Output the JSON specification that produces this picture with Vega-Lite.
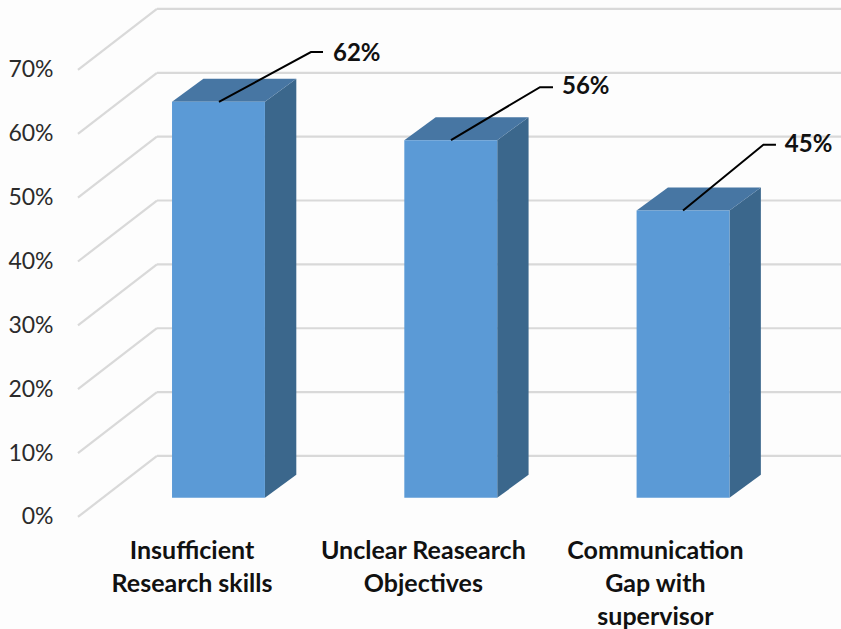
{
"$schema":"https://vega.github.io/schema/vega-lite/v6.json",
"width":841,"height":629,"autosize":{"type":"none"},"padding":0,
"background":"#fdfdfd",
"config":{"view":{"stroke":null},"font":"Lato"},
"datasets":{
"levels":[
{"level":0,"back":9.55,"front":0.395,"wall":0.735,"end":3.68},
{"level":10,"back":19.55,"front":0.395,"wall":0.735,"end":3.68},
{"level":20,"back":29.55,"front":0.395,"wall":0.735,"end":3.68},
{"level":30,"back":39.55,"front":0.395,"wall":0.735,"end":3.68},
{"level":40,"back":49.55,"front":0.395,"wall":0.735,"end":3.68},
{"level":50,"back":59.55,"front":0.395,"wall":0.735,"end":3.68},
{"level":60,"back":69.55,"front":0.395,"wall":0.735,"end":3.68},
{"level":70,"back":79.55,"front":0.395,"wall":0.735,"end":3.68}],
"bars":[
{"category":"Insufficient\nResearch skills","value":62,"left":0.8,"right":1.2,"top":65,"base":3,"labelX":0.886,"labelY":-3.45,"tagX":1.493,"tagY":72.5,"tag":"62%"},
{"category":"Unclear Reasearch\nObjectives","value":56,"left":1.8,"right":2.2,"top":59,"base":3,"labelX":1.882,"labelY":-3.45,"tagX":2.479,"tagY":67.3,"tag":"56%"},
{"category":"Communication\nGap with\nsupervisor","value":45,"left":2.8,"right":3.2,"top":48,"base":3,"labelX":2.881,"labelY":-3.45,"tagX":3.438,"tagY":58.3,"tag":"45%"}],
"faces":[
{"category":"A","a":1.2,"b":0.8,"top":65,"base":3},
{"category":"A","a":1.335,"b":0.935,"top":68.6,"base":6.6},
{"category":"B","a":2.2,"b":1.8,"top":59,"base":3},
{"category":"B","a":2.335,"b":1.935,"top":62.6,"base":6.6},
{"category":"C","a":3.2,"b":2.8,"top":48,"base":3},
{"category":"C","a":3.335,"b":2.935,"top":51.6,"base":6.6}],
"leaders":[
{"category":"A","step":1,"px":1.002,"py":65},
{"category":"A","step":2,"px":1.398,"py":72.8},
{"category":"A","step":3,"px":1.45,"py":72.8},
{"category":"B","step":1,"px":2.001,"py":59},
{"category":"B","step":2,"px":2.384,"py":67.3},
{"category":"B","step":3,"px":2.44,"py":67.3},
{"category":"C","step":1,"px":3.0,"py":48},
{"category":"C","step":2,"px":3.346,"py":58.3},
{"category":"C","step":3,"px":3.4,"py":58.3}]
},
"layer":[
{"data":{"name":"levels"},"mark":{"type":"rule","color":"#d9d9d9","strokeWidth":2.2},
 "encoding":{
 "x":{"field":"wall","type":"quantitative","scale":{"domain":[0.0594,3.68],"nice":false,"zero":false},"axis":null},
 "x2":{"field":"end"},
 "y":{"field":"back","type":"quantitative","scale":{"domain":[-17.55,80.95],"nice":false,"zero":false},"axis":{"values":[0,10,20,30,40,50,60,70],"labelExpr":"datum.value+'%'","title":null,"domain":false,"ticks":false,"grid":false,"offset":-78,"labelPadding":25,"labelFontSize":23,"labelColor":"#2b2b2b","labelFont":"Lato"}},
 "y2":{"field":"back"}}},
{"data":{"name":"levels"},"mark":{"type":"rule","color":"#d9d9d9","strokeWidth":2.2},
 "encoding":{
 "x":{"field":"front","type":"quantitative"},"x2":{"field":"wall"},
 "y":{"field":"level","type":"quantitative"},"y2":{"field":"back"}}},
{"data":{"name":"faces"},"mark":{"type":"area","color":"#3b678c","orient":"vertical"},
 "encoding":{
 "x":{"field":"a","type":"quantitative"},
 "y":{"field":"top","type":"quantitative"},"y2":{"field":"base"},
 "detail":{"field":"category"}}},
{"data":{"name":"faces"},"mark":{"type":"area","color":"#4776a3","orient":"horizontal"},
 "encoding":{
 "y":{"field":"top","type":"quantitative"},
 "x":{"field":"b","type":"quantitative"},"x2":{"field":"a"},
 "detail":{"field":"category"}}},
{"data":{"name":"bars"},"mark":{"type":"rect","color":"#5b9ad6"},
 "encoding":{
 "x":{"field":"left","type":"quantitative"},"x2":{"field":"right"},
 "y":{"field":"top","type":"quantitative"},"y2":{"field":"base"}}},
{"data":{"name":"leaders"},"mark":{"type":"line","color":"#000000","strokeWidth":2},
 "encoding":{
 "x":{"field":"px","type":"quantitative"},
 "y":{"field":"py","type":"quantitative"},
 "detail":{"field":"category"},"order":{"field":"step"}}},
{"data":{"name":"bars"},"mark":{"type":"text","align":"left","baseline":"middle","fontSize":24,"fontWeight":"bold","color":"#111111"},
 "encoding":{
 "x":{"field":"tagX","type":"quantitative"},
 "y":{"field":"tagY","type":"quantitative"},
 "text":{"field":"tag"}}},
{"data":{"name":"bars"},"mark":{"type":"text","align":"center","baseline":"top","fontSize":25,"fontWeight":"bold","color":"#111111","lineBreak":"\n","lineHeight":33},
 "encoding":{
 "x":{"field":"labelX","type":"quantitative"},
 "y":{"field":"labelY","type":"quantitative"},
 "text":{"field":"category"}}}
]
}
